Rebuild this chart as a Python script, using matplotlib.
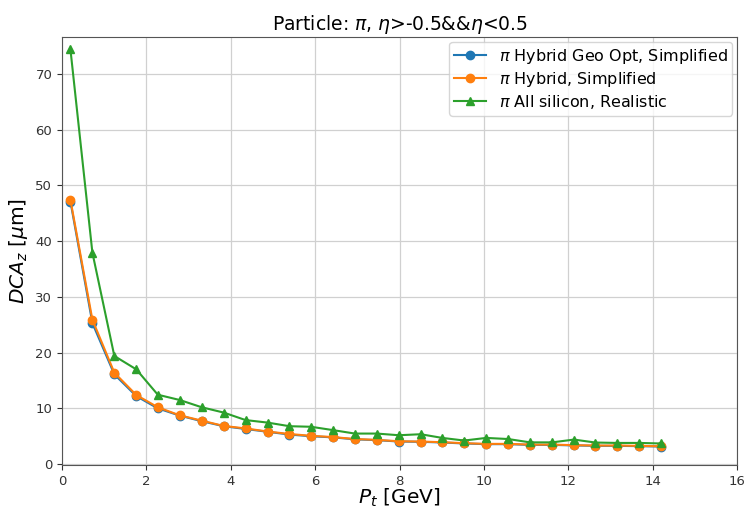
import matplotlib
matplotlib.use('Agg')
import matplotlib.pyplot as plt

# transverse momentum bins [GeV]
pt = [0.20, 0.72, 1.24, 1.76, 2.27, 2.79, 3.31, 3.83, 4.35, 4.87,
      5.39, 5.90, 6.42, 6.94, 7.46, 7.98, 8.50, 9.01, 9.53, 10.05,
      10.57, 11.09, 11.61, 12.13, 12.64, 13.16, 13.68, 14.20]

# DCA_z resolution [um]
dca_geo_opt = [47.1, 25.3, 16.1, 12.2, 10.0, 8.7, 7.7, 6.8, 6.3, 5.8,
               5.3, 5.0, 4.8, 4.45, 4.3, 4.05, 4.0, 3.88, 3.7, 3.58,
               3.58, 3.45, 3.45, 3.35, 3.28, 3.28, 3.22, 3.15]
dca_hybrid = [47.4, 25.9, 16.4, 12.4, 10.2, 8.75, 7.8, 6.85, 6.4, 5.85,
              5.4, 5.08, 4.85, 4.5, 4.35, 4.1, 4.05, 3.93, 3.75, 3.63,
              3.63, 3.5, 3.5, 3.4, 3.33, 3.33, 3.27, 3.2]
dca_all_si = [74.4, 37.95, 19.4, 17.0, 12.45, 11.5, 10.2, 9.25, 7.9, 7.45,
              6.8, 6.7, 6.1, 5.48, 5.48, 5.18, 5.36, 4.7, 4.23, 4.7,
              4.5, 3.9, 3.9, 4.4, 3.87, 3.8, 3.8, 3.7]


def main():
    fig = plt.figure(figsize=(7.47, 5.09), dpi=100)
    ax = fig.add_axes([0.083, 0.086, 0.904, 0.841])

    ax.plot(pt, dca_geo_opt, marker='o', ms=6, lw=1.5, color='#1f77b4',
            label=r'$\pi$ Hybrid Geo Opt, Simplified')
    ax.plot(pt, dca_hybrid, marker='o', ms=6, lw=1.5, color='#ff7f0e',
            label=r'$\pi$ Hybrid, Simplified')
    ax.plot(pt, dca_all_si, marker='^', ms=6, lw=1.5, color='#2ca02c',
            label=r'$\pi$ All silicon, Realistic')

    ax.set_xlim(0, 16)
    ax.set_ylim(-0.2, 76.6)
    ax.set_xticks(range(0, 17, 2))
    ax.set_yticks(range(0, 71, 10))
    ax.tick_params(labelsize=9.5, colors='#333333')
    for sp in ax.spines.values():
        sp.set_color('#555555')
    ax.grid(True, color='#d0d0d0', lw=0.9)

    ax.set_title(r'Particle: $\pi$, $\eta$>-0.5&&$\eta$<0.5', fontsize=13.5,
                 pad=5)
    ax.set_xlabel(r'$P_t$ [GeV]', fontsize=14.5)
    ax.xaxis.set_label_coords(0.5, -0.05)
    ax.set_ylabel(r'$DCA_z$ [$\mu$m]', fontsize=14.5, labelpad=4)
    ax.legend(loc='upper right', fontsize=11.5, handlelength=2.0,
              labelspacing=0.25, borderaxespad=0.3, borderpad=0.3)

    fig.savefig('out.png', dpi=100)


if __name__ == '__main__':
    main()
